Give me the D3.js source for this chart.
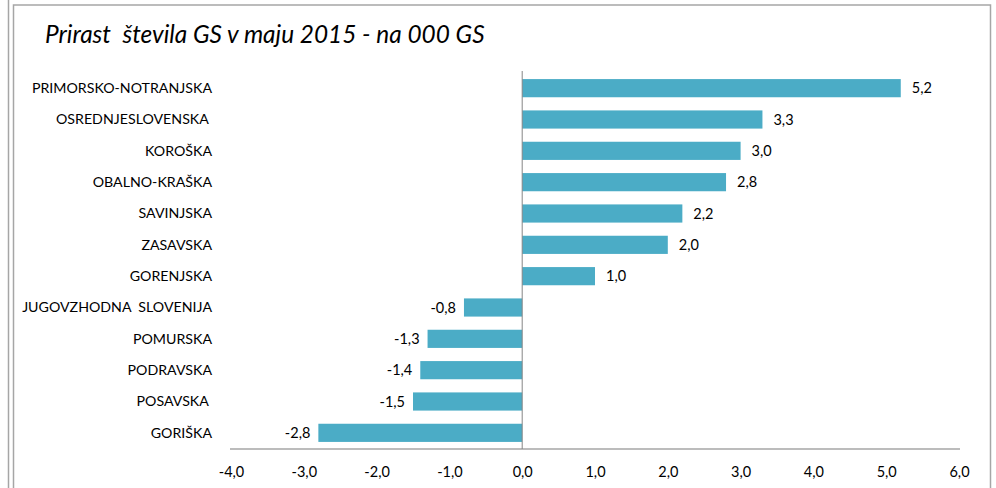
<!DOCTYPE html>
<html>
<head>
<meta charset="utf-8">
<script src="https://cdn.jsdelivr.net/npm/d3@7"></script>
<style>
  html, body { margin: 0; padding: 0; background: #fff; }
  svg { display: block; }
  text { font-family: Lato, "Open Sans", sans-serif; fill: #000; white-space: pre; }
</style>
</head>
<body>
<svg id="chart" width="996" height="488"></svg>
<script>
const titleText = "Prirast  števila GS v maju 2015 - na 000 GS";
const categories = [
  "PRIMORSKO-NOTRANJSKA",
  "OSREDNJESLOVENSKA ",
  "KOROŠKA",
  "OBALNO-KRAŠKA",
  "SAVINJSKA",
  "ZASAVSKA",
  "GORENJSKA",
  "JUGOVZHODNA  SLOVENIJA",
  "POMURSKA",
  "PODRAVSKA",
  "POSAVSKA ",
  "GORIŠKA"
];
const values = [5.2, 3.3, 3.0, 2.8, 2.2, 2.0, 1.0, -0.8, -1.3, -1.4, -1.5, -2.8];
const xTicks = [-4, -3, -2, -1, 0, 1, 2, 3, 4, 5, 6];

const fmt = v => v.toFixed(1).replace(".", ",");

const svg = d3.select("#chart");

// frame lines
svg.append("line").attr("x1", 8.5).attr("x2", 8.5).attr("y1", 0).attr("y2", 488)
  .attr("stroke", "#a6a6a6").attr("stroke-width", 1.5);
svg.append("path")
  .attr("d", "M13.5,488 V5 H990.5 V488")
  .attr("fill", "none").attr("stroke", "#a6a6a6").attr("stroke-width", 1.5);

const x = d3.scaleLinear().domain([-4, 6]).range([231, 959]);
const y = d3.scaleBand().domain(categories).range([72.5, 448.5])
  .paddingInner(0.42).paddingOuter(0.21);

// title
svg.append("text")
  .attr("x", 45).attr("y", 43)
  .attr("font-size", 24.4).attr("font-style", "italic")
  .text(titleText);

// bars
svg.append("g").selectAll("rect").data(values).join("rect")
  .attr("x", d => x(Math.min(0, d)))
  .attr("width", d => Math.abs(x(d) - x(0)))
  .attr("y", (d, i) => y(categories[i]))
  .attr("height", y.bandwidth())
  .attr("fill", "#4bacc6");

// x axis
const xAxis = d3.axisBottom(x).tickValues(xTicks).tickFormat(fmt).tickSize(0).tickPadding(18);
const gx = svg.append("g").attr("transform", "translate(0,449)").call(xAxis);
gx.select(".domain").attr("stroke", "#a6a6a6").attr("stroke-width", 1.5)
  .attr("d", "M230,0H960");
gx.selectAll("text").attr("font-size", 14.5).attr("font-family", "Lato, sans-serif").attr("fill", "#000");

// zero line (category axis)
svg.append("line")
  .attr("x1", x(0)).attr("x2", x(0))
  .attr("y1", 71).attr("y2", 449)
  .attr("stroke", "#868686").attr("stroke-width", 1);

// category labels
svg.append("g").selectAll("text").data(categories).join("text")
  .attr("x", 212)
  .attr("y", d => y(d) + y.bandwidth() / 2)
  .attr("dy", "0.35em")
  .attr("text-anchor", "end")
  .attr("font-size", 14.2)
  .text(d => d);

// data labels
svg.append("g").selectAll("text").data(values).join("text")
  .attr("x", d => d >= 0 ? x(d) + 11 : x(d) - 8)
  .attr("y", (d, i) => y(categories[i]) + y.bandwidth() / 2)
  .attr("dy", "0.35em")
  .attr("text-anchor", d => d >= 0 ? "start" : "end")
  .attr("font-size", 14.5)
  .text(fmt);
</script>
</body>
</html>
